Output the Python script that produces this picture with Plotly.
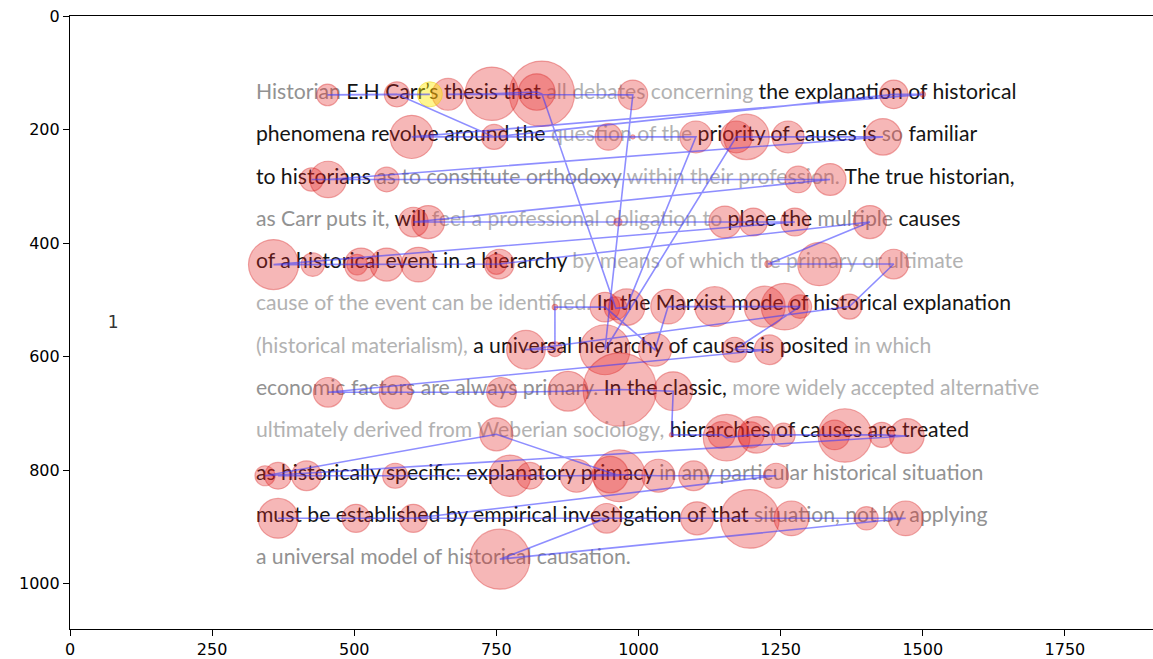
import numpy as np
import plotly.graph_objects as go

# ---------------- data ----------------
# stimulus text, one list per line: (segment, tone)  k = read/highlighted, g1 = dark grey, g2 = light grey
text_lines = [
    [("Historian", "g1"), ("E.H Carr’s thesis that", "k"), ("all debates concerning", "g2"), ("the explanation of historical", "k")],
    [("phenomena revolve around the", "k"), ("question of the", "g2"), ("priority of causes is", "k"), ("so", "g1"), ("familiar", "k")],
    [("to historians", "k"), ("as to constitute orthodoxy", "g1"), ("within their profession.", "g2"), ("The true historian,", "k")],
    [("as Carr puts it,", "g1"), ("will", "k"), ("feel a professional obligation to", "g2"), ("place the", "k"), ("multiple", "g1"), ("causes", "k")],
    [("of a historical event in a hierarchy", "k"), ("by means of which the primary or ultimate", "g2")],
    [("cause of the event can be identified.", "g2"), ("In the Marxist mode of historical explanation", "k")],
    [("(historical materialism),", "g2"), ("a universal hierarchy of causes is posited", "k"), ("in which", "g2")],
    [("economic factors are always primary.", "g1"), ("In the classic,", "k"), ("more widely accepted alternative", "g2")],
    [("ultimately derived from Weberian sociology,", "g2"), ("hierarchies of causes are treated", "k")],
    [("as historically specific: explanatory primacy", "k"), ("in any particular historical situation", "g1")],
    [("must be established by empirical investigation of that", "k"), ("situation, not by applying", "g1")],
    [("a universal model of historical causation.", "g1")],
]
text_x = 327
text_y = [137, 211.5, 286, 360.5, 435, 509.5, 584, 658.5, 733, 807.5, 882, 956.5]

# fixations in temporal order (screen px of a 1920x1080 stimulus) and durations (ms)
fix_x = [633, 453, 575, 746, 1449, 1500, 601, 947, 990, 1101,
         979, 960, 830, 821, 742, 665, 990, 941, 1172, 1190,
         1263, 1430, 454, 425, 557, 1281, 1337, 604, 630, 964,
         1152, 1202, 1275, 358, 427, 505, 512, 557, 613, 750,
         755, 1407, 1228, 1318, 1449, 1371, 802, 853, 853, 941,
         1029, 1052, 1134, 1222, 1257, 1284, 1169, 1230, 454, 573,
         759, 876, 967, 1061, 1058, 1146, 1155, 1198, 1208, 1255,
         1345, 1363, 1428, 1472, 343, 750, 966, 366, 416, 572,
         774, 809, 891, 950, 1035, 1097, 1242, 604, 366, 503,
         1103, 1196, 1269, 1401, 1470, 756, 944]
fix_y = [138, 139, 138, 213, 138, 138, 213, 213, 213, 213,
         513, 515, 137, 134, 137, 138, 139, 588, 213, 213,
         213, 213, 288, 288, 288, 288, 288, 363, 363, 363,
         363, 363, 363, 438, 438, 438, 438, 438, 438, 437,
         437, 363, 437, 437, 437, 512, 588, 587, 513, 513,
         588, 512, 512, 512, 512, 512, 588, 588, 663, 663,
         663, 661, 658, 661, 738, 738, 743, 738, 738, 738,
         738, 739, 738, 740, 810, 737, 810, 810, 810, 810,
         810, 810, 810, 808, 810, 810, 810, 885, 885, 885,
         885, 886, 885, 885, 885, 957, 885]
fix_dur = [100, 75, 100, 100, 129, 5, 298, 113, 3, 162,
           212, 83, 683, 212, 456, 162, 140, 400, 162, 330,
           162, 212, 212, 87, 97, 113, 162, 140, 174, 10,
           162, 125, 125, 400, 87, 67, 174, 174, 192, 67,
           140, 174, 7, 298, 140, 100, 239, 35, 5, 140,
           174, 192, 253, 268, 347, 87, 100, 140, 140, 174,
           140, 253, 860, 239, 3, 113, 347, 109, 212, 87,
           140, 456, 100, 192, 64, 174, 431, 113, 140, 100,
           274, 113, 174, 212, 174, 140, 100, 125, 253, 125,
           174, 550, 192, 87, 192, 576, 140]

page_label = "1"
page_label_pos = (76, 542)
header_marks_x = [614, 805, 849, 1122, 1294]

x_ticks = [0, 250, 500, 750, 1000, 1250, 1500, 1750]
y_ticks = [0, 200, 400, 600, 800, 1000]

# ---------------- layout geometry ----------------
W, H = 1153, 659
ML, MR, MT, MB = 70, 0, 16, 30
XR = [0, 1905]
YR = [1080, 0]
pxu = (W - ML - MR) / (XR[1] - XR[0])  # pixels per data unit

tone_color = {"k": "#151515", "g1": "#929292", "g2": "#b2b2b2"}

def line_html(segs):
    return " ".join('<span style="color:%s">%s</span>' % (tone_color[t], s) for s, t in segs)

fx = np.array(fix_x, float)
fy = np.array(fix_y, float)
rad = 2.2 * np.sqrt(np.array(fix_dur, float))  # radius in data units
diam_px = 2 * rad * pxu

fig = go.Figure()

# stimulus text (below the fixation marks)
fig.add_trace(go.Scatter(
    x=[text_x] * len(text_lines), y=text_y, mode="text",
    text=[line_html(l) for l in text_lines], textposition="middle right",
    textfont=dict(family="Lato", size=21.2, color="#151515"),
    hoverinfo="skip", showlegend=False))

# page number
fig.add_trace(go.Scatter(
    x=[page_label_pos[0]], y=[page_label_pos[1]], mode="text", text=[page_label],
    textfont=dict(family="DejaVu Sans", size=17, color="#333333"),
    hoverinfo="skip", showlegend=False))

# fixations
fig.add_trace(go.Scatter(
    x=fx[1:], y=fy[1:], mode="markers",
    marker=dict(size=diam_px[1:], sizemode="diameter", color="rgba(228,35,35,0.46)",
                line=dict(color="rgba(215,25,25,0.55)", width=1.2)),
    hoverinfo="skip", showlegend=False))
fig.add_trace(go.Scatter(
    x=fx[:1], y=fy[:1], mode="markers",
    marker=dict(size=diam_px[:1], sizemode="diameter", color="rgba(255,236,0,0.62)",
                line=dict(color="rgba(235,210,0,0.7)", width=1)),
    hoverinfo="skip", showlegend=False))

# saccades
fig.add_trace(go.Scatter(
    x=fx, y=fy, mode="lines",
    line=dict(color="rgba(60,60,255,0.58)", width=1.6),
    hoverinfo="skip", showlegend=False))

# faint marks above the frame
for mx in header_marks_x:
    fig.add_annotation(x=mx, y=-10, xref="x", yref="y", text="‒", showarrow=False,
                       font=dict(family="DejaVu Sans", size=11, color="#b0b0b0"))

axis_common = dict(showgrid=False, zeroline=False, showline=True, linecolor="black",
                   linewidth=1.2, ticks="outside", ticklen=6, tickwidth=1.2, automargin=False,
                   tickcolor="black", tickfont=dict(family="DejaVu Sans", size=16, color="black"))
fig.update_xaxes(range=XR, tickvals=x_ticks, ticktext=[str(v) for v in x_ticks],
                 mirror=True, **axis_common)
fig.update_yaxes(range=YR, tickvals=y_ticks, ticktext=[str(v) for v in y_ticks], **axis_common)

fig.update_layout(width=W, height=H, margin=dict(l=ML, r=MR, t=MT, b=MB),
                  plot_bgcolor="white", paper_bgcolor="white")

fig.write_html("out.html", config={"displayModeBar": False},
               post_script="document.body.style.margin='0';document.body.style.overflow='hidden';")
